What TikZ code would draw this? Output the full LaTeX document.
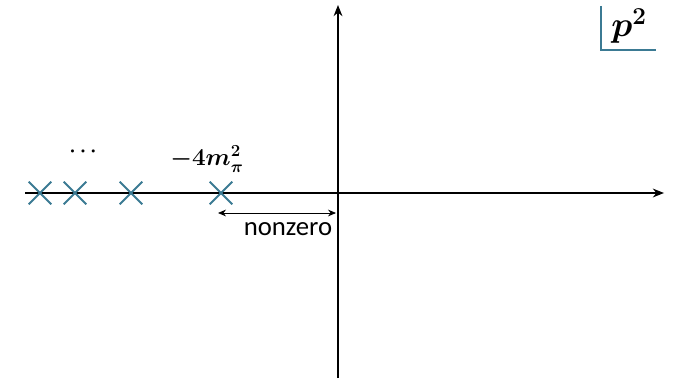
\documentclass[tikz,border=0pt]{standalone}
\usepackage{amsmath,amssymb}
\usepackage{fontspec}
\newfontfamily\labelfont{Carlito}
\definecolor{polecol}{HTML}{3B7A93}
\usetikzlibrary{arrows.meta,positioning,shapes.misc}

\begin{document}
\begin{tikzpicture}[x=0.025cm,y=-0.025cm,
  axis/.style={-{Stealth[length=2.8mm,width=2.2mm]},thick,black},
  pole/.style={cross out,draw=polecol,line width=1.3pt,minimum size=5.2mm,inner sep=0pt},
  gap/.style={{Stealth[length=2mm,width=1.7mm]}-{Stealth[length=2mm,width=1.7mm]},semithick,black},
  mlabel/.style={font=\fontsize{18}{20}\selectfont,inner sep=1pt}]
  \useasboundingbox (0,0) rectangle (674,380);
  % axes
  \coordinate (xl) at (25,193);
  \coordinate (xr) at (664,193);
  \coordinate (yb) at (338,378);
  \coordinate (yt) at (338,5);
  \draw[axis] (xl) -- (xr);
  \draw[axis] (yb) -- (yt);
  % poles on the negative axis
  \node[pole] (p1) at (40,193) {};
  \node[pole] (p2) at (75,193) {};
  \node[pole] (p3) at (131,193) {};
  \node[pole] (p4) at (221,193) {};
  \node[font=\Large,inner sep=1pt] (dots) at (85,152) {$\boldsymbol{\cdots}$};
  \node[mlabel] (thr) at (207,159) {$\boldsymbol{-4m_\pi^2}$};
  % gap up to the origin
  \coordinate (ga) at (218,213);
  \coordinate (gb) at (336,213);
  \draw[gap] (ga) -- (gb);
  \node[font=\labelfont\fontsize{19}{22}\selectfont,inner sep=1pt] (nz) at (288,229) {nonzero};
  % variable box
  \coordinate (bt) at (601,6);
  \coordinate (bc) at (601,50);
  \coordinate (br) at (656,50);
  \draw[polecol,line width=1pt] (bt) -- (bc) -- (br);
  \node[font=\fontsize{27}{30}\selectfont,inner sep=1pt] (var) at (629,26) {$\boldsymbol{p^2}$};
\end{tikzpicture}
\end{document}
